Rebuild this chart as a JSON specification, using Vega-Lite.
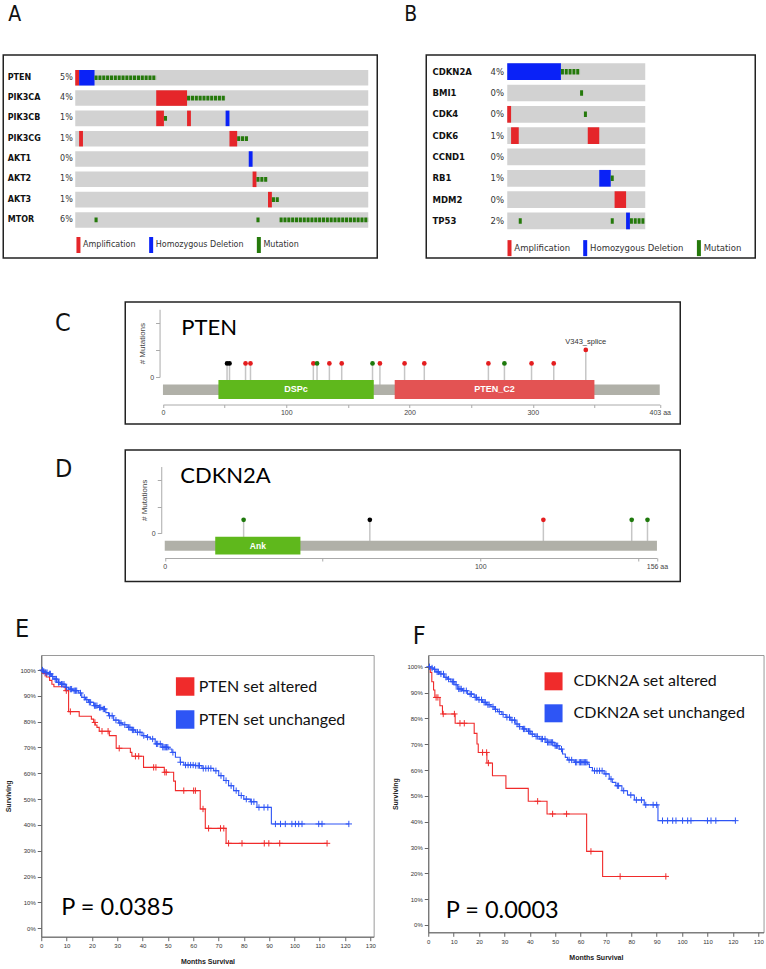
{
  "$schema": "https://vega.github.io/schema/vega-lite/v6.json",
  "background": "white",
  "autosize": {"type": "pad"},
  "padding": {"left": 2.25, "top": 3, "right": 2, "bottom": 2},
  "spacing": 0,
  "resolve": {"scale": {"x": "independent", "y": "independent", "color": "independent", "fill": "independent"}, "legend": {"color": "independent"}},
  "config": {
    "view": {"stroke": null},
    "axis": {"grid": false, "labelFont": "Liberation Sans", "titleFont": "Liberation Sans"},
    "legend": {"labelFont": "DejaVu Sans"},
    "title": {"font": "Liberation Sans Narrow, DejaVu Sans Condensed, Roboto, sans-serif", "fontSize": 25, "fontWeight": "normal", "anchor": "start", "frame": "group", "baseline": "alphabetic", "color": "#111"}
  },
  "datasets": {
    "a_genes": [{"key":"PTEN|5%"},{"key":"PIK3CA|4%"},{"key":"PIK3CB|1%"},{"key":"PIK3CG|1%"},{"key":"AKT1|0%"},{"key":"AKT2|1%"},{"key":"AKT3|1%"},{"key":"MTOR|6%"}],
    "a_alt": [
      {"key":"PTEN|5%","type":"Amplification","x0":0,"x1":1},
      {"key":"PTEN|5%","type":"Homozygous Deletion","x0":1,"x1":5},
      {"key":"PIK3CA|4%","type":"Amplification","x0":21,"x1":29},
      {"key":"PIK3CB|1%","type":"Amplification","x0":21,"x1":23},
      {"key":"PIK3CB|1%","type":"Amplification","x0":29,"x1":30},
      {"key":"PIK3CB|1%","type":"Homozygous Deletion","x0":39,"x1":40},
      {"key":"PIK3CG|1%","type":"Amplification","x0":1,"x1":2},
      {"key":"PIK3CG|1%","type":"Amplification","x0":40,"x1":42},
      {"key":"AKT1|0%","type":"Homozygous Deletion","x0":45,"x1":46},
      {"key":"AKT2|1%","type":"Amplification","x0":46,"x1":47},
      {"key":"AKT3|1%","type":"Amplification","x0":50,"x1":51}
    ],
    "a_mut": [
      {"key":"PTEN|5%","type":"Mutation","x0":5,"x1":21},
      {"key":"PIK3CA|4%","type":"Mutation","x0":29,"x1":39},
      {"key":"PIK3CB|1%","type":"Mutation","x0":23,"x1":24},
      {"key":"PIK3CG|1%","type":"Mutation","x0":42,"x1":45},
      {"key":"AKT2|1%","type":"Mutation","x0":47,"x1":50},
      {"key":"AKT3|1%","type":"Mutation","x0":51,"x1":53},
      {"key":"MTOR|6%","type":"Mutation","x0":5,"x1":6},
      {"key":"MTOR|6%","type":"Mutation","x0":47,"x1":48},
      {"key":"MTOR|6%","type":"Mutation","x0":53,"x1":76}
    ],
    "b_genes": [{"key":"CDKN2A|4%"},{"key":"BMI1|0%"},{"key":"CDK4|0%"},{"key":"CDK6|1%"},{"key":"CCND1|0%"},{"key":"RB1|1%"},{"key":"MDM2|0%"},{"key":"TP53|2%"}],
    "b_alt": [
      {"key":"CDKN2A|4%","type":"Homozygous Deletion","x0":0,"x1":14},
      {"key":"CDK4|0%","type":"Amplification","x0":0,"x1":1},
      {"key":"CDK6|1%","type":"Amplification","x0":1,"x1":3},
      {"key":"CDK6|1%","type":"Amplification","x0":21,"x1":24},
      {"key":"RB1|1%","type":"Homozygous Deletion","x0":24,"x1":27},
      {"key":"MDM2|0%","type":"Amplification","x0":28,"x1":31},
      {"key":"TP53|2%","type":"Homozygous Deletion","x0":31,"x1":32}
    ],
    "b_mut": [
      {"key":"CDKN2A|4%","type":"Mutation","x0":14,"x1":19},
      {"key":"BMI1|0%","type":"Mutation","x0":19,"x1":20},
      {"key":"CDK4|0%","type":"Mutation","x0":20,"x1":21},
      {"key":"RB1|1%","type":"Mutation","x0":27,"x1":28},
      {"key":"TP53|2%","type":"Mutation","x0":3,"x1":4},
      {"key":"TP53|2%","type":"Mutation","x0":27,"x1":28},
      {"key":"TP53|2%","type":"Mutation","x0":32,"x1":36}
    ],
    "c_mut": [
      {"pos":52,"count":1,"type":"Inframe"},{"pos":54,"count":1,"type":"Inframe"},
      {"pos":67,"count":1,"type":"Truncating"},{"pos":71,"count":1,"type":"Truncating"},
      {"pos":122,"count":1,"type":"Truncating"},{"pos":125,"count":1,"type":"Missense"},
      {"pos":135,"count":1,"type":"Truncating"},{"pos":145,"count":1,"type":"Truncating"},
      {"pos":170,"count":1,"type":"Missense"},{"pos":176,"count":1,"type":"Truncating"},
      {"pos":196,"count":1,"type":"Truncating"},{"pos":212,"count":1,"type":"Truncating"},
      {"pos":264,"count":1,"type":"Truncating"},{"pos":277,"count":1,"type":"Missense"},
      {"pos":299,"count":1,"type":"Truncating"},{"pos":317,"count":1,"type":"Truncating"},
      {"pos":343,"count":2,"type":"Truncating","label":"V343_splice"}
    ],
    "c_dom": [{"name":"DSPc","start":45,"end":171},{"name":"PTEN_C2","start":188,"end":350}],
    "d_mut": [
      {"pos":25,"count":1,"type":"Missense"},{"pos":65,"count":1,"type":"Inframe"},
      {"pos":120,"count":1,"type":"Truncating"},{"pos":148,"count":1,"type":"Missense"},
      {"pos":153,"count":1,"type":"Missense"}
    ],
    "d_dom": [{"name":"Ank","start":16,"end":43}],
    "e_curve": [
      {"g":"PTEN set altered","t":0,"s":100},{"g":"PTEN set altered","t":0.9,"s":98.7},{"g":"PTEN set altered","t":2,"s":97.3},{"g":"PTEN set altered","t":3.3,"s":96},{"g":"PTEN set altered","t":4.2,"s":94.5},{"g":"PTEN set altered","t":5,"s":93.5},{"g":"PTEN set altered","t":9.5,"s":92},{"g":"PTEN set altered","t":10.8,"s":83.9},{"g":"PTEN set altered","t":15,"s":82.1},{"g":"PTEN set altered","t":19.8,"s":81},{"g":"PTEN set altered","t":20.7,"s":79.7},{"g":"PTEN set altered","t":21.3,"s":78.7},{"g":"PTEN set altered","t":22,"s":77.8},{"g":"PTEN set altered","t":22.9,"s":76.3},{"g":"PTEN set altered","t":26.9,"s":74.6},{"g":"PTEN set altered","t":29.6,"s":69.7},{"g":"PTEN set altered","t":35.2,"s":68.1},{"g":"PTEN set altered","t":35.8,"s":66.6},{"g":"PTEN set altered","t":40.4,"s":62.3},{"g":"PTEN set altered","t":48.6,"s":60.4},{"g":"PTEN set altered","t":52.3,"s":57},{"g":"PTEN set altered","t":53,"s":53.3},{"g":"PTEN set altered","t":62.8,"s":46.2},{"g":"PTEN set altered","t":64.8,"s":38.7},{"g":"PTEN set altered","t":73,"s":32.9},{"g":"PTEN set altered","t":112.9,"s":32.9},
      {"g":"PTEN set unchanged","t":0,"s":100},{"g":"PTEN set unchanged","t":0.8,"s":99.5},{"g":"PTEN set unchanged","t":1.5,"s":99},{"g":"PTEN set unchanged","t":2.9,"s":98.5},{"g":"PTEN set unchanged","t":4,"s":97.5},{"g":"PTEN set unchanged","t":5,"s":96.5},{"g":"PTEN set unchanged","t":6.2,"s":95.2},{"g":"PTEN set unchanged","t":7.5,"s":94.5},{"g":"PTEN set unchanged","t":9.5,"s":93.3},{"g":"PTEN set unchanged","t":10.8,"s":92.6},{"g":"PTEN set unchanged","t":12.5,"s":92},{"g":"PTEN set unchanged","t":14.8,"s":91.1},{"g":"PTEN set unchanged","t":16,"s":89.4},{"g":"PTEN set unchanged","t":17.5,"s":88.5},{"g":"PTEN set unchanged","t":18.7,"s":87.5},{"g":"PTEN set unchanged","t":20.7,"s":86.2},{"g":"PTEN set unchanged","t":22.5,"s":85.5},{"g":"PTEN set unchanged","t":24,"s":84.9},{"g":"PTEN set unchanged","t":25.5,"s":83.5},{"g":"PTEN set unchanged","t":26.6,"s":82.3},{"g":"PTEN set unchanged","t":28.6,"s":80.6},{"g":"PTEN set unchanged","t":30.6,"s":79.5},{"g":"PTEN set unchanged","t":32,"s":78.8},{"g":"PTEN set unchanged","t":33.9,"s":77.8},{"g":"PTEN set unchanged","t":35.5,"s":76.8},{"g":"PTEN set unchanged","t":37.2,"s":75.9},{"g":"PTEN set unchanged","t":39.8,"s":74.6},{"g":"PTEN set unchanged","t":41.5,"s":74},{"g":"PTEN set unchanged","t":43.1,"s":73.3},{"g":"PTEN set unchanged","t":45,"s":71.4},{"g":"PTEN set unchanged","t":47.7,"s":70.1},{"g":"PTEN set unchanged","t":50.3,"s":69.4},{"g":"PTEN set unchanged","t":51.6,"s":68.1},{"g":"PTEN set unchanged","t":53,"s":66.2},{"g":"PTEN set unchanged","t":54.9,"s":64.3},{"g":"PTEN set unchanged","t":56.3,"s":63.2},{"g":"PTEN set unchanged","t":60.9,"s":63},{"g":"PTEN set unchanged","t":63.5,"s":61.9},{"g":"PTEN set unchanged","t":68.1,"s":61},{"g":"PTEN set unchanged","t":70.1,"s":59.1},{"g":"PTEN set unchanged","t":72.1,"s":57.2},{"g":"PTEN set unchanged","t":74,"s":55.2},{"g":"PTEN set unchanged","t":76,"s":53.3},{"g":"PTEN set unchanged","t":78,"s":51.4},{"g":"PTEN set unchanged","t":80,"s":50},{"g":"PTEN set unchanged","t":82.6,"s":49},{"g":"PTEN set unchanged","t":85.2,"s":46.8},{"g":"PTEN set unchanged","t":90.9,"s":40.4},{"g":"PTEN set unchanged","t":121.5,"s":40.4}
    ],
    "e_cens": [
      {"g":"PTEN set altered","t":1.5,"s":98.7},{"g":"PTEN set altered","t":9.9,"s":92},{"g":"PTEN set altered","t":11.5,"s":83.9},{"g":"PTEN set altered","t":21.2,"s":79.7},{"g":"PTEN set altered","t":24,"s":76.3},{"g":"PTEN set altered","t":26.4,"s":76.3},{"g":"PTEN set altered","t":30.8,"s":69.7},{"g":"PTEN set altered","t":37.2,"s":66.6},{"g":"PTEN set altered","t":38.5,"s":66.6},{"g":"PTEN set altered","t":44.4,"s":62.3},{"g":"PTEN set altered","t":45.3,"s":62.3},{"g":"PTEN set altered","t":48.8,"s":60.4},{"g":"PTEN set altered","t":49.4,"s":60.4},{"g":"PTEN set altered","t":56.3,"s":53.3},{"g":"PTEN set altered","t":60.2,"s":53.3},{"g":"PTEN set altered","t":60.9,"s":53.3},{"g":"PTEN set altered","t":63.9,"s":46.2},{"g":"PTEN set altered","t":66.1,"s":38.7},{"g":"PTEN set altered","t":70.8,"s":38.7},{"g":"PTEN set altered","t":72.1,"s":38.7},{"g":"PTEN set altered","t":74,"s":32.9},{"g":"PTEN set altered","t":79.3,"s":32.9},{"g":"PTEN set altered","t":88.1,"s":32.9},{"g":"PTEN set altered","t":89.9,"s":32.9},{"g":"PTEN set altered","t":94.2,"s":32.9},{"g":"PTEN set altered","t":112.9,"s":32.9},
      {"g":"PTEN set unchanged","t":0.5,"s":100},{"g":"PTEN set unchanged","t":1,"s":99.5},{"g":"PTEN set unchanged","t":1.8,"s":99},{"g":"PTEN set unchanged","t":2.3,"s":99},{"g":"PTEN set unchanged","t":3.2,"s":98.5},{"g":"PTEN set unchanged","t":3.6,"s":98.5},{"g":"PTEN set unchanged","t":4.5,"s":97.5},{"g":"PTEN set unchanged","t":5.5,"s":96.5},{"g":"PTEN set unchanged","t":6,"s":96.5},{"g":"PTEN set unchanged","t":6.8,"s":95.2},{"g":"PTEN set unchanged","t":7,"s":95.2},{"g":"PTEN set unchanged","t":8,"s":94.5},{"g":"PTEN set unchanged","t":8.5,"s":94.5},{"g":"PTEN set unchanged","t":9,"s":94.5},{"g":"PTEN set unchanged","t":10,"s":93.3},{"g":"PTEN set unchanged","t":11.5,"s":92.6},{"g":"PTEN set unchanged","t":12,"s":92.6},{"g":"PTEN set unchanged","t":13,"s":92},{"g":"PTEN set unchanged","t":13.5,"s":92},{"g":"PTEN set unchanged","t":14,"s":92},{"g":"PTEN set unchanged","t":15.5,"s":91.1},{"g":"PTEN set unchanged","t":17,"s":89.4},{"g":"PTEN set unchanged","t":18,"s":88.5},{"g":"PTEN set unchanged","t":19,"s":87.5},{"g":"PTEN set unchanged","t":19.5,"s":87.5},{"g":"PTEN set unchanged","t":21,"s":86.2},{"g":"PTEN set unchanged","t":21.5,"s":86.2},{"g":"PTEN set unchanged","t":22,"s":86.2},{"g":"PTEN set unchanged","t":23,"s":85.5},{"g":"PTEN set unchanged","t":23.5,"s":85.5},{"g":"PTEN set unchanged","t":24.5,"s":84.9},{"g":"PTEN set unchanged","t":25,"s":84.9},{"g":"PTEN set unchanged","t":27,"s":82.3},{"g":"PTEN set unchanged","t":28,"s":82.3},{"g":"PTEN set unchanged","t":29.5,"s":80.6},{"g":"PTEN set unchanged","t":31,"s":79.5},{"g":"PTEN set unchanged","t":31.5,"s":79.5},{"g":"PTEN set unchanged","t":33,"s":78.8},{"g":"PTEN set unchanged","t":34.5,"s":77.8},{"g":"PTEN set unchanged","t":35,"s":77.8},{"g":"PTEN set unchanged","t":36,"s":76.8},{"g":"PTEN set unchanged","t":36.5,"s":76.8},{"g":"PTEN set unchanged","t":38,"s":75.9},{"g":"PTEN set unchanged","t":39,"s":75.9},{"g":"PTEN set unchanged","t":40.5,"s":74.6},{"g":"PTEN set unchanged","t":42,"s":74},{"g":"PTEN set unchanged","t":44,"s":73.3},{"g":"PTEN set unchanged","t":45.5,"s":71.4},{"g":"PTEN set unchanged","t":46,"s":71.4},{"g":"PTEN set unchanged","t":47,"s":71.4},{"g":"PTEN set unchanged","t":48,"s":70.1},{"g":"PTEN set unchanged","t":48.5,"s":70.1},{"g":"PTEN set unchanged","t":49,"s":70.1},{"g":"PTEN set unchanged","t":49.5,"s":70.1},{"g":"PTEN set unchanged","t":50,"s":70.1},{"g":"PTEN set unchanged","t":52,"s":68.1},{"g":"PTEN set unchanged","t":55,"s":64.3},{"g":"PTEN set unchanged","t":57,"s":63.2},{"g":"PTEN set unchanged","t":58,"s":63.2},{"g":"PTEN set unchanged","t":59,"s":63.2},{"g":"PTEN set unchanged","t":60,"s":63.2},{"g":"PTEN set unchanged","t":61,"s":63},{"g":"PTEN set unchanged","t":62,"s":63},{"g":"PTEN set unchanged","t":62.5,"s":63},{"g":"PTEN set unchanged","t":64,"s":61.9},{"g":"PTEN set unchanged","t":65,"s":61.9},{"g":"PTEN set unchanged","t":66,"s":61.9},{"g":"PTEN set unchanged","t":67,"s":61.9},{"g":"PTEN set unchanged","t":69,"s":61},{"g":"PTEN set unchanged","t":71,"s":59.1},{"g":"PTEN set unchanged","t":73,"s":57.2},{"g":"PTEN set unchanged","t":75,"s":55.2},{"g":"PTEN set unchanged","t":77,"s":53.3},{"g":"PTEN set unchanged","t":79,"s":51.4},{"g":"PTEN set unchanged","t":81,"s":50},{"g":"PTEN set unchanged","t":83,"s":49},{"g":"PTEN set unchanged","t":84,"s":49},{"g":"PTEN set unchanged","t":86,"s":46.8},{"g":"PTEN set unchanged","t":88,"s":46.8},{"g":"PTEN set unchanged","t":89.5,"s":46.8},{"g":"PTEN set unchanged","t":92.5,"s":40.4},{"g":"PTEN set unchanged","t":94.5,"s":40.4},{"g":"PTEN set unchanged","t":96.4,"s":40.4},{"g":"PTEN set unchanged","t":99,"s":40.4},{"g":"PTEN set unchanged","t":100.4,"s":40.4},{"g":"PTEN set unchanged","t":101.7,"s":40.4},{"g":"PTEN set unchanged","t":103,"s":40.4},{"g":"PTEN set unchanged","t":109.6,"s":40.4},{"g":"PTEN set unchanged","t":110.9,"s":40.4},{"g":"PTEN set unchanged","t":121.5,"s":40.4}
    ],
    "f_curve": [
      {"g":"CDKN2A set altered","t":0,"s":100},{"g":"CDKN2A set altered","t":0.8,"s":97.8},{"g":"CDKN2A set altered","t":1.4,"s":94.2},{"g":"CDKN2A set altered","t":2.1,"s":91},{"g":"CDKN2A set altered","t":2.6,"s":88.1},{"g":"CDKN2A set altered","t":4.6,"s":84.9},{"g":"CDKN2A set altered","t":5.6,"s":81.7},{"g":"CDKN2A set altered","t":10.6,"s":78.1},{"g":"CDKN2A set altered","t":18.1,"s":74.2},{"g":"CDKN2A set altered","t":19.2,"s":70.1},{"g":"CDKN2A set altered","t":19.7,"s":66.8},{"g":"CDKN2A set altered","t":23.1,"s":62.7},{"g":"CDKN2A set altered","t":25.3,"s":57.8},{"g":"CDKN2A set altered","t":30.6,"s":52.9},{"g":"CDKN2A set altered","t":39.4,"s":47.9},{"g":"CDKN2A set altered","t":46.8,"s":43},{"g":"CDKN2A set altered","t":62.4,"s":28.5},{"g":"CDKN2A set altered","t":68.7,"s":18.8},{"g":"CDKN2A set altered","t":93.6,"s":18.8},
      {"g":"CDKN2A set unchanged","t":0,"s":100},{"g":"CDKN2A set unchanged","t":1,"s":99.5},{"g":"CDKN2A set unchanged","t":2,"s":99},{"g":"CDKN2A set unchanged","t":3,"s":98},{"g":"CDKN2A set unchanged","t":4.5,"s":97.2},{"g":"CDKN2A set unchanged","t":6.3,"s":95.9},{"g":"CDKN2A set unchanged","t":7.5,"s":95.2},{"g":"CDKN2A set unchanged","t":8.9,"s":94.2},{"g":"CDKN2A set unchanged","t":10.5,"s":93},{"g":"CDKN2A set unchanged","t":11.6,"s":91.4},{"g":"CDKN2A set unchanged","t":13.5,"s":90.7},{"g":"CDKN2A set unchanged","t":15.5,"s":89.4},{"g":"CDKN2A set unchanged","t":18.1,"s":88.1},{"g":"CDKN2A set unchanged","t":19.5,"s":87.2},{"g":"CDKN2A set unchanged","t":21.4,"s":86.2},{"g":"CDKN2A set unchanged","t":23,"s":85.3},{"g":"CDKN2A set unchanged","t":24.7,"s":84.5},{"g":"CDKN2A set unchanged","t":26,"s":83.5},{"g":"CDKN2A set unchanged","t":27.3,"s":82.6},{"g":"CDKN2A set unchanged","t":29,"s":81.5},{"g":"CDKN2A set unchanged","t":30.6,"s":80.4},{"g":"CDKN2A set unchanged","t":32.5,"s":79.3},{"g":"CDKN2A set unchanged","t":34.5,"s":77.8},{"g":"CDKN2A set unchanged","t":35.8,"s":76.8},{"g":"CDKN2A set unchanged","t":37.2,"s":75.9},{"g":"CDKN2A set unchanged","t":38.8,"s":75},{"g":"CDKN2A set unchanged","t":40.4,"s":73.9},{"g":"CDKN2A set unchanged","t":42,"s":73},{"g":"CDKN2A set unchanged","t":43.7,"s":72},{"g":"CDKN2A set unchanged","t":46.4,"s":70.7},{"g":"CDKN2A set unchanged","t":49.6,"s":69.4},{"g":"CDKN2A set unchanged","t":51.6,"s":68.1},{"g":"CDKN2A set unchanged","t":52.9,"s":66.2},{"g":"CDKN2A set unchanged","t":54,"s":64.9},{"g":"CDKN2A set unchanged","t":54.9,"s":63.9},{"g":"CDKN2A set unchanged","t":57.5,"s":63},{"g":"CDKN2A set unchanged","t":62.8,"s":62.3},{"g":"CDKN2A set unchanged","t":63.5,"s":61},{"g":"CDKN2A set unchanged","t":64.7,"s":59.7},{"g":"CDKN2A set unchanged","t":69.3,"s":58.5},{"g":"CDKN2A set unchanged","t":71.3,"s":56.5},{"g":"CDKN2A set unchanged","t":72.5,"s":55.2},{"g":"CDKN2A set unchanged","t":73.9,"s":53.9},{"g":"CDKN2A set unchanged","t":76.3,"s":52},{"g":"CDKN2A set unchanged","t":78.5,"s":50.3},{"g":"CDKN2A set unchanged","t":81.2,"s":48.4},{"g":"CDKN2A set unchanged","t":85.1,"s":46.5},{"g":"CDKN2A set unchanged","t":90.5,"s":40.4},{"g":"CDKN2A set unchanged","t":121,"s":40.4}
    ],
    "f_cens": [
      {"g":"CDKN2A set altered","t":3.1,"s":88.1},{"g":"CDKN2A set altered","t":3.8,"s":88.1},{"g":"CDKN2A set altered","t":5.9,"s":81.7},{"g":"CDKN2A set altered","t":10.3,"s":81.7},{"g":"CDKN2A set altered","t":12.5,"s":78.1},{"g":"CDKN2A set altered","t":14.2,"s":78.1},{"g":"CDKN2A set altered","t":21.4,"s":66.8},{"g":"CDKN2A set altered","t":23,"s":66.8},{"g":"CDKN2A set altered","t":23.7,"s":62.7},{"g":"CDKN2A set altered","t":43.1,"s":47.9},{"g":"CDKN2A set altered","t":49,"s":43},{"g":"CDKN2A set altered","t":54.5,"s":43},{"g":"CDKN2A set altered","t":64.1,"s":28.5},{"g":"CDKN2A set altered","t":75.6,"s":18.8},{"g":"CDKN2A set altered","t":93.6,"s":18.8},
      {"g":"CDKN2A set unchanged","t":0.5,"s":100},{"g":"CDKN2A set unchanged","t":1.5,"s":99.5},{"g":"CDKN2A set unchanged","t":2.5,"s":99},{"g":"CDKN2A set unchanged","t":3.5,"s":98},{"g":"CDKN2A set unchanged","t":4,"s":98},{"g":"CDKN2A set unchanged","t":5,"s":97.2},{"g":"CDKN2A set unchanged","t":6,"s":97.2},{"g":"CDKN2A set unchanged","t":7,"s":95.9},{"g":"CDKN2A set unchanged","t":8,"s":95.2},{"g":"CDKN2A set unchanged","t":9.5,"s":94.2},{"g":"CDKN2A set unchanged","t":10,"s":94.2},{"g":"CDKN2A set unchanged","t":11,"s":93},{"g":"CDKN2A set unchanged","t":12,"s":91.4},{"g":"CDKN2A set unchanged","t":12.5,"s":91.4},{"g":"CDKN2A set unchanged","t":13,"s":91.4},{"g":"CDKN2A set unchanged","t":14,"s":90.7},{"g":"CDKN2A set unchanged","t":15,"s":90.7},{"g":"CDKN2A set unchanged","t":16.5,"s":89.4},{"g":"CDKN2A set unchanged","t":17,"s":89.4},{"g":"CDKN2A set unchanged","t":18.5,"s":88.1},{"g":"CDKN2A set unchanged","t":19,"s":88.1},{"g":"CDKN2A set unchanged","t":20,"s":87.2},{"g":"CDKN2A set unchanged","t":21,"s":87.2},{"g":"CDKN2A set unchanged","t":22,"s":86.2},{"g":"CDKN2A set unchanged","t":22.5,"s":86.2},{"g":"CDKN2A set unchanged","t":23.5,"s":85.3},{"g":"CDKN2A set unchanged","t":24,"s":85.3},{"g":"CDKN2A set unchanged","t":25.5,"s":84.5},{"g":"CDKN2A set unchanged","t":26.5,"s":83.5},{"g":"CDKN2A set unchanged","t":28,"s":82.6},{"g":"CDKN2A set unchanged","t":29.5,"s":81.5},{"g":"CDKN2A set unchanged","t":31,"s":80.4},{"g":"CDKN2A set unchanged","t":32,"s":80.4},{"g":"CDKN2A set unchanged","t":33,"s":79.3},{"g":"CDKN2A set unchanged","t":34,"s":79.3},{"g":"CDKN2A set unchanged","t":35,"s":77.8},{"g":"CDKN2A set unchanged","t":36,"s":76.8},{"g":"CDKN2A set unchanged","t":37.5,"s":75.9},{"g":"CDKN2A set unchanged","t":38,"s":75.9},{"g":"CDKN2A set unchanged","t":39.5,"s":75},{"g":"CDKN2A set unchanged","t":40,"s":75},{"g":"CDKN2A set unchanged","t":41,"s":73.9},{"g":"CDKN2A set unchanged","t":42.5,"s":73},{"g":"CDKN2A set unchanged","t":43,"s":73},{"g":"CDKN2A set unchanged","t":44.5,"s":72},{"g":"CDKN2A set unchanged","t":45,"s":72},{"g":"CDKN2A set unchanged","t":46,"s":72},{"g":"CDKN2A set unchanged","t":47,"s":70.7},{"g":"CDKN2A set unchanged","t":47.5,"s":70.7},{"g":"CDKN2A set unchanged","t":48,"s":70.7},{"g":"CDKN2A set unchanged","t":48.5,"s":70.7},{"g":"CDKN2A set unchanged","t":49,"s":70.7},{"g":"CDKN2A set unchanged","t":50,"s":69.4},{"g":"CDKN2A set unchanged","t":50.5,"s":69.4},{"g":"CDKN2A set unchanged","t":51,"s":69.4},{"g":"CDKN2A set unchanged","t":52.5,"s":68.1},{"g":"CDKN2A set unchanged","t":55.5,"s":63.9},{"g":"CDKN2A set unchanged","t":56.5,"s":63.9},{"g":"CDKN2A set unchanged","t":58,"s":63},{"g":"CDKN2A set unchanged","t":58.5,"s":63},{"g":"CDKN2A set unchanged","t":59.5,"s":63},{"g":"CDKN2A set unchanged","t":60,"s":63},{"g":"CDKN2A set unchanged","t":60.5,"s":63},{"g":"CDKN2A set unchanged","t":61,"s":63},{"g":"CDKN2A set unchanged","t":61.5,"s":63},{"g":"CDKN2A set unchanged","t":62,"s":63},{"g":"CDKN2A set unchanged","t":62.5,"s":63},{"g":"CDKN2A set unchanged","t":65.5,"s":59.7},{"g":"CDKN2A set unchanged","t":66.5,"s":59.7},{"g":"CDKN2A set unchanged","t":67.5,"s":59.7},{"g":"CDKN2A set unchanged","t":68.5,"s":59.7},{"g":"CDKN2A set unchanged","t":70,"s":58.5},{"g":"CDKN2A set unchanged","t":72,"s":56.5},{"g":"CDKN2A set unchanged","t":74.5,"s":53.9},{"g":"CDKN2A set unchanged","t":75,"s":53.9},{"g":"CDKN2A set unchanged","t":77,"s":52},{"g":"CDKN2A set unchanged","t":79.8,"s":50.3},{"g":"CDKN2A set unchanged","t":82,"s":48.4},{"g":"CDKN2A set unchanged","t":84,"s":48.4},{"g":"CDKN2A set unchanged","t":85.7,"s":46.5},{"g":"CDKN2A set unchanged","t":88.6,"s":46.5},{"g":"CDKN2A set unchanged","t":90,"s":46.5},{"g":"CDKN2A set unchanged","t":92.3,"s":40.4},{"g":"CDKN2A set unchanged","t":94.3,"s":40.4},{"g":"CDKN2A set unchanged","t":96.3,"s":40.4},{"g":"CDKN2A set unchanged","t":97.6,"s":40.4},{"g":"CDKN2A set unchanged","t":100.2,"s":40.4},{"g":"CDKN2A set unchanged","t":102.2,"s":40.4},{"g":"CDKN2A set unchanged","t":103.5,"s":40.4},{"g":"CDKN2A set unchanged","t":110,"s":40.4},{"g":"CDKN2A set unchanged","t":111.4,"s":40.4},{"g":"CDKN2A set unchanged","t":113.3,"s":40.4},{"g":"CDKN2A set unchanged","t":121,"s":40.4}
    ]
  },
  "vconcat": [
    {
      "hconcat": [
        {
          "width": 374, "height": 203,
          "view": {"stroke": "#222", "strokeWidth": 1.5},
          "title": {"text": "A", "fontSize": 21, "offset": 29.6, "dx": 4.9},
          "resolve": {"axis": {"y": "independent"}},
          "layer": [
            {
              "data": {"name": "a_genes"},
              "mark": {"type": "rect", "color": "#d2d2d2"},
              "encoding": {
                "y": {"field": "key", "type": "nominal",
                      "scale": {"domain": ["PTEN|5%","PIK3CA|4%","PIK3CB|1%","PIK3CG|1%","AKT1|0%","AKT2|1%","AKT3|1%","MTOR|6%"], "range": [15, 172.7], "paddingInner": 0.236, "paddingOuter": 0},
                      "axis": {"orient": "left", "offset": -4, "domain": false, "ticks": false, "tickSize": 0, "labelPadding": 0, "labelAlign": "left", "labelExpr": "split(datum.value, '|')[0]", "labelFont": "DejaVu Sans", "labelFontWeight": "bold", "labelFontSize": 8, "labelColor": "#111", "title": null}},
                "x": {"datum": 0, "type": "quantitative", "scale": {"domain": [0, 76], "range": [72, 365], "nice": false, "zero": false}, "axis": null},
                "x2": {"datum": 76}
              }
            },
            {
              "data": {"name": "a_alt"},
              "mark": {"type": "rect"},
              "encoding": {
                "y": {"field": "key", "type": "nominal",
                      "axis": {"orient": "left", "offset": -69, "domain": false, "ticks": false, "tickSize": 0, "labelPadding": 0, "labelAlign": "right", "labelExpr": "split(datum.value, '|')[1]", "labelFont": "DejaVu Sans", "labelFontSize": 8, "labelColor": "#333", "title": null}},
                "x": {"field": "x0", "type": "quantitative", "axis": null},
                "x2": {"field": "x1"},
                "color": {"field": "type", "type": "nominal",
                          "scale": {"domain": ["Amplification", "Homozygous Deletion", "Mutation"], "range": ["#e5262a", "#0a22f7", "#25790b"]},
                          "legend": {"orient": "none", "legendX": 71.2, "legendY": 186, "direction": "horizontal", "title": null, "symbolType": "M-1,-4H1V4H-1Z", "symbolSize": 16, "symbolStrokeWidth": 0, "symbolOpacity": 1, "labelFontSize": 8, "labelColor": "#333", "labelOffset": 0.6, "columnPadding": 10.7, "padding": 0}}
              }
            },
            {
              "data": {"name": "a_mut"},
              "mark": {"type": "rule", "strokeWidth": 4.7, "strokeDash": [3.1, 0.75]},
              "encoding": {
                "y": {"field": "key", "type": "nominal", "axis": null},
                "x": {"field": "x0", "type": "quantitative", "axis": null},
                "x2": {"field": "x1"},
                "color": {"field": "type", "type": "nominal", "legend": null}
              }
            }
          ]
        },
        {
          "width": 329, "height": 203,
          "view": {"stroke": "#222", "strokeWidth": 1.5},
          "title": {"text": "B", "fontSize": 21, "offset": 29.6, "dx": -22},
          "resolve": {"axis": {"y": "independent"}},
          "layer": [
            {
              "data": {"name": "b_genes"},
              "mark": {"type": "rect", "color": "#d2d2d2"},
              "encoding": {
                "y": {"field": "key", "type": "nominal",
                      "scale": {"domain": ["CDKN2A|4%","BMI1|0%","CDK4|0%","CDK6|1%","CCND1|0%","RB1|1%","MDM2|0%","TP53|2%"], "range": [8.3, 174.3], "paddingInner": 0.217, "paddingOuter": 0},
                      "axis": {"orient": "left", "offset": -5.7, "domain": false, "ticks": false, "tickSize": 0, "labelPadding": 0, "labelAlign": "left", "labelExpr": "split(datum.value, '|')[0]", "labelFont": "DejaVu Sans", "labelFontWeight": "bold", "labelFontSize": 8.5, "labelColor": "#111", "title": null}},
                "x": {"datum": 0, "type": "quantitative", "scale": {"domain": [0, 36], "range": [81, 219], "nice": false, "zero": false}, "axis": null},
                "x2": {"datum": 36}
              }
            },
            {
              "data": {"name": "b_alt"},
              "mark": {"type": "rect"},
              "encoding": {
                "y": {"field": "key", "type": "nominal",
                      "axis": {"orient": "left", "offset": -77.3, "domain": false, "ticks": false, "tickSize": 0, "labelPadding": 0, "labelAlign": "right", "labelExpr": "split(datum.value, '|')[1]", "labelFont": "DejaVu Sans", "labelFontSize": 8.5, "labelColor": "#333", "title": null}},
                "x": {"field": "x0", "type": "quantitative", "axis": null},
                "x2": {"field": "x1"},
                "color": {"field": "type", "type": "nominal",
                          "scale": {"domain": ["Amplification", "Homozygous Deletion", "Mutation"], "range": ["#e5262a", "#0a22f7", "#25790b"]},
                          "legend": {"orient": "none", "legendX": 79, "legendY": 188.5, "direction": "horizontal", "title": null, "symbolType": "M-1,-4H1V4H-1Z", "symbolSize": 16, "symbolStrokeWidth": 0, "symbolOpacity": 1, "labelFontSize": 8.5, "labelColor": "#333", "labelOffset": 0.6, "columnPadding": 10.7, "padding": 0}}
              }
            },
            {
              "data": {"name": "b_mut"},
              "mark": {"type": "rule", "strokeWidth": 5.5, "strokeDash": [3.0, 0.83]},
              "encoding": {
                "y": {"field": "key", "type": "nominal", "axis": null},
                "x": {"field": "x0", "type": "quantitative", "axis": null},
                "x2": {"field": "x1"},
                "color": {"field": "type", "type": "nominal", "legend": null}
              }
            }
          ]
        }
      ],
      "spacing": 49,
      "bounds": "flush",
      "resolve": {"scale": {"x": "independent", "y": "independent", "color": "independent"}, "legend": {"color": "independent"}}
    },
    {"width": 1, "height": 41.75, "data": {"values": []}, "mark": "point"},
    {
      "hconcat": [
        {"width": 121.75, "height": 122, "title": {"text": "C", "offset": -34.25, "dx": 51.75}, "data": {"values": []}, "mark": "point"},
        {
          "width": 555, "height": 122,
          "view": {"stroke": "#222", "strokeWidth": 1.5},
          "title": {"text": "PTEN", "font": "Lato", "fontSize": 22, "offset": -37.6, "dx": 56, "color": "#000"},
          "layer": [
            {
              "data": {"name": "c_mut"},
              "mark": {"type": "rule", "color": "#c6c6c6", "strokeWidth": 1.5},
              "encoding": {
                "x": {"field": "pos", "type": "quantitative", "scale": {"domain": [0, 403], "range": [37.7, 534.5], "nice": false, "zero": false},
                      "axis": {"orient": "bottom", "offset": -19.5, "values": [0,50,100,150,200,250,300,350,403], "labelExpr": "datum.value == 403 ? '403 aa' : (datum.value % 100 == 0 ? datum.label : '')", "tickSize": 3, "domainColor": "#aaa", "tickColor": "#aaa", "labelColor": "#444", "labelFontSize": 7, "labelPadding": 1, "labelFlush": false, "labelOverlap": false, "title": null}},
                "y": {"field": "count", "type": "quantitative", "scale": {"domain": [0, 5], "range": [75, 7.3], "nice": false, "zero": false},
                      "axis": {"orient": "left", "offset": -34.3, "values": [0,1,2,3,4,5], "labelExpr": "datum.value == 0 || datum.value == 5 ? datum.label : ''", "tickSize": 4, "domainColor": "#aaa", "tickColor": "#aaa", "labelColor": "#444", "labelFontSize": 7, "labelPadding": 2, "labelFlush": false, "labelOverlap": false, "title": "# Mutations", "titleFontSize": 8, "titleFontWeight": "normal", "titleColor": "#444", "titlePadding": 3}},
                "y2": {"datum": -0.6}
              }
            },
            {
              "data": {"values": [{"start": 0, "end": 403}]},
              "mark": {"type": "rect", "color": "#b0b0a8"},
              "encoding": {
                "x": {"field": "start", "type": "quantitative"},
                "x2": {"field": "end"},
                "y": {"datum": -0.55},
                "y2": {"datum": -1.33}
              }
            },
            {
              "data": {"name": "c_dom"},
              "mark": {"type": "rect"},
              "encoding": {
                "x": {"field": "start", "type": "quantitative"},
                "x2": {"field": "end"},
                "y": {"datum": -0.22},
                "y2": {"datum": -1.62},
                "fill": {"field": "name", "type": "nominal", "scale": {"domain": ["DSPc", "PTEN_C2"], "range": ["#5fb81c", "#e35353"]}, "legend": null}
              }
            },
            {
              "data": {"name": "c_dom"},
              "transform": [{"fold": ["start", "end"], "as": ["k", "v"]}],
              "mark": {"type": "text", "color": "white", "font": "Liberation Sans", "fontWeight": "bold", "fontSize": 9, "baseline": "middle"},
              "encoding": {
                "x": {"aggregate": "mean", "field": "v", "type": "quantitative"},
                "y": {"datum": -0.92},
                "text": {"field": "name", "type": "nominal"}
              }
            },
            {
              "data": {"name": "c_mut"},
              "mark": {"type": "point", "filled": true, "size": 22, "opacity": 1},
              "encoding": {
                "x": {"field": "pos", "type": "quantitative"},
                "y": {"field": "count", "type": "quantitative"},
                "color": {"field": "type", "type": "nominal", "scale": {"domain": ["Missense", "Truncating", "Inframe"], "range": ["#1e790c", "#e41d1f", "#000000"]}, "legend": null}
              }
            },
            {
              "data": {"name": "c_mut"},
              "transform": [{"filter": "datum.label"}],
              "mark": {"type": "text", "font": "Liberation Sans", "fontSize": 7.5, "color": "#333", "dy": -8},
              "encoding": {
                "x": {"field": "pos", "type": "quantitative"},
                "y": {"field": "count", "type": "quantitative"},
                "text": {"field": "label", "type": "nominal"}
              }
            }
          ]
        }
      ],
      "spacing": 0,
      "bounds": "flush",
      "resolve": {"scale": {"x": "independent", "y": "independent", "color": "independent", "fill": "independent"}}
    },
    {"width": 1, "height": 24, "data": {"values": []}, "mark": "point"},
    {
      "hconcat": [
        {"width": 121.75, "height": 131.5, "title": {"text": "D", "offset": -31.75, "dx": 51.75}, "data": {"values": []}, "mark": "point"},
        {
          "width": 555, "height": 131.5,
          "view": {"stroke": "#222", "strokeWidth": 1.5},
          "title": {"text": "CDKN2A", "font": "Lato", "fontSize": 22, "offset": -38.1, "dx": 55, "color": "#000"},
          "layer": [
            {
              "data": {"name": "d_mut"},
              "mark": {"type": "rule", "color": "#c6c6c6", "strokeWidth": 1.5},
              "encoding": {
                "x": {"field": "pos", "type": "quantitative", "scale": {"domain": [0, 156], "range": [39.5, 531.7], "nice": false, "zero": false},
                      "axis": {"orient": "bottom", "offset": -23.5, "values": [0,50,100,150,156], "labelExpr": "datum.value == 156 ? '156 aa' : (datum.value % 100 == 0 ? datum.label : '')", "tickSize": 3, "domainColor": "#aaa", "tickColor": "#aaa", "labelColor": "#444", "labelFontSize": 7, "labelPadding": 1, "labelFlush": false, "labelOverlap": false, "title": null}},
                "y": {"field": "count", "type": "quantitative", "scale": {"domain": [0, 5], "range": [83.2, 16.5], "nice": false, "zero": false},
                      "axis": {"orient": "left", "offset": -36, "values": [0,1,2,3,4,5], "labelExpr": "datum.value == 0 || datum.value == 5 ? datum.label : ''", "tickSize": 4, "domainColor": "#aaa", "tickColor": "#aaa", "labelColor": "#444", "labelFontSize": 7, "labelPadding": 2, "labelFlush": false, "labelOverlap": false, "title": "# Mutations", "titleFontSize": 8, "titleFontWeight": "normal", "titleColor": "#444", "titlePadding": 3}},
                "y2": {"datum": -0.6}
              }
            },
            {
              "data": {"values": [{"start": 0, "end": 156}]},
              "mark": {"type": "rect", "color": "#b0b0a8"},
              "encoding": {
                "x": {"field": "start", "type": "quantitative"},
                "x2": {"field": "end"},
                "y": {"datum": -0.57},
                "y2": {"datum": -1.32}
              }
            },
            {
              "data": {"name": "d_dom"},
              "mark": {"type": "rect", "color": "#5fb81c"},
              "encoding": {
                "x": {"field": "start", "type": "quantitative"},
                "x2": {"field": "end"},
                "y": {"datum": -0.27},
                "y2": {"datum": -1.6}
              }
            },
            {
              "data": {"name": "d_dom"},
              "transform": [{"fold": ["start", "end"], "as": ["k", "v"]}],
              "mark": {"type": "text", "color": "white", "font": "Liberation Sans", "fontWeight": "bold", "fontSize": 8.5, "baseline": "middle"},
              "encoding": {
                "x": {"aggregate": "mean", "field": "v", "type": "quantitative"},
                "y": {"datum": -0.935},
                "text": {"field": "name", "type": "nominal"}
              }
            },
            {
              "data": {"name": "d_mut"},
              "mark": {"type": "point", "filled": true, "size": 22, "opacity": 1},
              "encoding": {
                "x": {"field": "pos", "type": "quantitative"},
                "y": {"field": "count", "type": "quantitative"},
                "color": {"field": "type", "type": "nominal", "scale": {"domain": ["Missense", "Truncating", "Inframe"], "range": ["#1e790c", "#e41d1f", "#000000"]}, "legend": null}
              }
            }
          ]
        }
      ],
      "spacing": 0,
      "bounds": "flush",
      "resolve": {"scale": {"x": "independent", "y": "independent", "color": "independent"}}
    },
    {"width": 1, "height": 33, "data": {"values": []}, "mark": "point"},
    {
      "hconcat": [
        {"width": 37.05, "height": 1, "data": {"values": []}, "mark": "point"},
        {
          "width": 332.4, "height": 281.7,
          "view": {"stroke": "#9a9a9a", "strokeWidth": 1},
          "title": {"text": "E", "offset": 12.75, "dx": -26.3},
          "layer": [
            {
              "data": {"name": "e_cens"},
              "mark": {"type": "square", "opacity": 0},
              "encoding": {
                "x": {"field": "t", "type": "quantitative", "scale": {"domain": [0, 131.3], "nice": false, "zero": false},
                      "axis": {"values": [0,10,20,30,40,50,60,70,80,90,100,110,120,130], "tickCount": 14, "title": "Months Survival", "titleFontSize": 7, "titleFontWeight": "bold", "titleColor": "#222", "titlePadding": 9, "labelFontSize": 6, "labelColor": "#333", "tickSize": 4, "tickColor": "#666", "domainColor": "#666", "labelPadding": 2, "labelFlush": false, "labelOverlap": false}},
                "y": {"field": "s", "type": "quantitative", "scale": {"domain": [-3.25, 105.81], "nice": false, "zero": false},
                      "axis": {"values": [0,10,20,30,40,50,60,70,80,90,100], "tickCount": 11, "labelExpr": "datum.value + '%'", "title": "Surviving", "titleFontSize": 7, "titleFontWeight": "bold", "titleColor": "#222", "titlePadding": 8.5, "labelFontSize": 6, "labelColor": "#333", "tickSize": 4, "tickColor": "#666", "domainColor": "#666", "labelPadding": 2, "labelFlush": false, "labelOverlap": false}},
                "color": {"field": "g", "type": "nominal", "scale": {"domain": ["PTEN set altered", "PTEN set unchanged"], "range": ["#f02b2b", "#2e55f5"]},
                          "legend": {"orient": "none", "legendX": 134.4, "legendY": 22, "title": null, "symbolType": "square", "symbolSize": 342, "symbolOpacity": 1, "symbolStrokeWidth": 0, "labelFont": "Lato", "labelFontSize": 16, "labelColor": "#111", "labelOffset": 4, "rowPadding": 14, "padding": 0, "direction": "vertical", "labelLimit": 300}}
              }
            },
            {
              "data": {"name": "e_curve"},
              "mark": {"type": "line", "interpolate": "step-after", "strokeWidth": 1.1},
              "encoding": {
                "x": {"field": "t", "type": "quantitative"},
                "y": {"field": "s", "type": "quantitative"},
                "color": {"field": "g", "type": "nominal", "legend": null}
              }
            },
            {
              "data": {"name": "e_cens"},
              "mark": {"type": "point", "shape": "M0,-1V1M-1,0H1", "filled": false, "size": 40, "strokeWidth": 1, "opacity": 1},
              "encoding": {
                "x": {"field": "t", "type": "quantitative"},
                "y": {"field": "s", "type": "quantitative"},
                "color": {"field": "g", "type": "nominal", "legend": null}
              }
            },
            {
              "data": {"values": [{"txt": "P = 0.0385", "t": 7.9, "s": 7.74}]},
              "mark": {"type": "text", "align": "left", "baseline": "middle", "font": "Lato", "fontSize": 23.5, "color": "#000"},
              "encoding": {
                "x": {"field": "t", "type": "quantitative"},
                "y": {"field": "s", "type": "quantitative"},
                "text": {"field": "txt", "type": "nominal"}
              }
            }
          ]
        },
        {"width": 54, "height": 1, "data": {"values": []}, "mark": "point"},
        {
          "width": 335.3, "height": 277.3,
          "view": {"stroke": "#9a9a9a", "strokeWidth": 1},
          "title": {"text": "F", "offset": 5.75, "dx": -15.5},
          "layer": [
            {
              "data": {"name": "f_cens"},
              "mark": {"type": "square", "opacity": 0},
              "encoding": {
                "x": {"field": "t", "type": "quantitative", "scale": {"domain": [0, 132.1], "nice": false, "zero": false},
                      "axis": {"values": [0,10,20,30,40,50,60,70,80,90,100,110,120,130], "tickCount": 14, "title": "Months Survival", "titleFontSize": 7, "titleFontWeight": "bold", "titleColor": "#222", "titlePadding": 9, "labelFontSize": 6, "labelColor": "#333", "tickSize": 4, "tickColor": "#666", "domainColor": "#666", "labelPadding": 2, "labelFlush": false, "labelOverlap": false}},
                "y": {"field": "s", "type": "quantitative", "scale": {"domain": [-2.83, 104.53], "nice": false, "zero": false},
                      "axis": {"values": [0,10,20,30,40,50,60,70,80,90,100], "tickCount": 11, "labelExpr": "datum.value + '%'", "title": "Surviving", "titleFontSize": 7, "titleFontWeight": "bold", "titleColor": "#222", "titlePadding": 8.5, "labelFontSize": 6, "labelColor": "#333", "tickSize": 4, "tickColor": "#666", "domainColor": "#666", "labelPadding": 2, "labelFlush": false, "labelOverlap": false}},
                "color": {"field": "g", "type": "nominal", "scale": {"domain": ["CDKN2A set altered", "CDKN2A set unchanged"], "range": ["#f02b2b", "#2e55f5"]},
                          "legend": {"orient": "none", "legendX": 116.3, "legendY": 17.3, "title": null, "symbolType": "square", "symbolSize": 324, "symbolOpacity": 1, "symbolStrokeWidth": 0, "labelFont": "Lato", "labelFontSize": 16, "labelColor": "#111", "labelOffset": 11, "rowPadding": 14, "padding": 0, "direction": "vertical", "labelLimit": 300}}
              }
            },
            {
              "data": {"name": "f_curve"},
              "mark": {"type": "line", "interpolate": "step-after", "strokeWidth": 1.1},
              "encoding": {
                "x": {"field": "t", "type": "quantitative"},
                "y": {"field": "s", "type": "quantitative"},
                "color": {"field": "g", "type": "nominal", "legend": null}
              }
            },
            {
              "data": {"name": "f_cens"},
              "mark": {"type": "point", "shape": "M0,-1V1M-1,0H1", "filled": false, "size": 40, "strokeWidth": 1, "opacity": 1},
              "encoding": {
                "x": {"field": "t", "type": "quantitative"},
                "y": {"field": "s", "type": "quantitative"},
                "color": {"field": "g", "type": "nominal", "legend": null}
              }
            },
            {
              "data": {"values": [{"txt": "P = 0.0003", "t": 6.93, "s": 5.54}]},
              "mark": {"type": "text", "align": "left", "baseline": "middle", "font": "Lato", "fontSize": 23.5, "color": "#000"},
              "encoding": {
                "x": {"field": "t", "type": "quantitative"},
                "y": {"field": "s", "type": "quantitative"},
                "text": {"field": "txt", "type": "nominal"}
              }
            }
          ]
        }
      ],
      "spacing": 0,
      "bounds": "flush",
      "resolve": {"scale": {"x": "independent", "y": "independent", "color": "independent"}, "legend": {"color": "independent"}}
    }
  ]
}
